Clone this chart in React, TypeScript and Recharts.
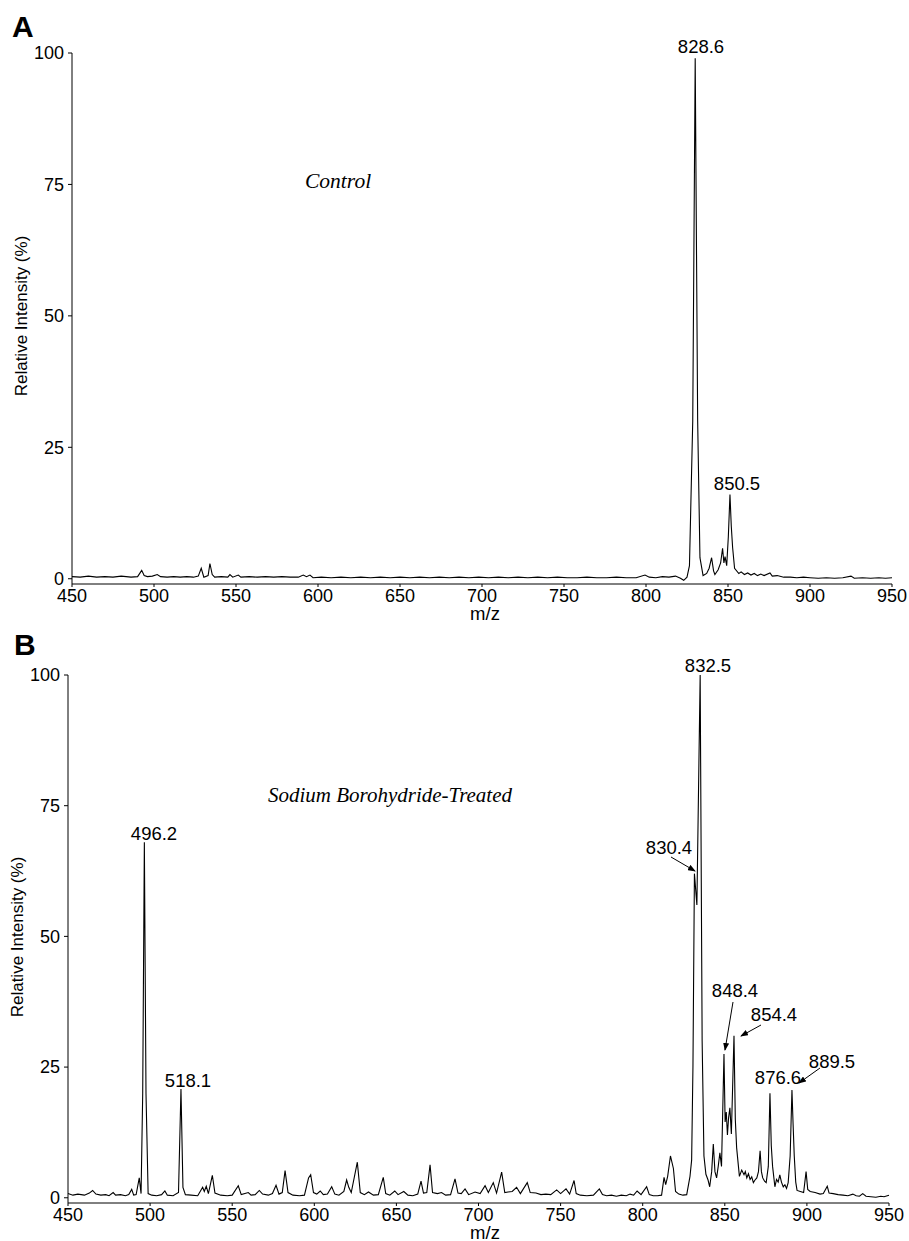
import React from 'react';
import { LineChart, Line, XAxis, YAxis } from 'recharts';

// axis ticks (shared by both panels)
const xTicks = [450, 500, 550, 600, 650, 700, 750, 800, 850, 900, 950];
const yTicks = [0, 25, 50, 75, 100];

// panel A - control spectrum (m/z, relative intensity %)
const mzA = [
  450, 455, 460, 465, 470, 475, 480, 486, 490, 492.5, 494, 496, 499, 502, 504, 508, 512, 516, 520, 524,
  527, 528.8, 530.4, 533, 534.1, 535.5, 537, 541, 545, 546.3, 548, 551.4, 553, 558, 563, 568, 573, 578,
  583, 588, 591, 593, 595.1, 597, 602, 608, 614, 620, 626, 632, 638, 644, 650, 656, 662, 668, 674, 680,
  686, 692, 698, 704, 710, 716, 722, 728, 734, 740, 746, 752, 758, 764, 770, 776, 782, 788, 794, 799.4,
  802, 806, 810, 814, 818, 821, 823, 825, 826.5, 828.5, 830, 831.5, 832.9, 834.8, 837, 838.5, 840,
  841.2, 842, 844, 845.5, 846.7, 847.5, 848.2, 849.2, 850.2, 851.2, 852, 852.8, 854, 856.6, 858, 860,
  862, 864, 866, 868, 870, 872, 875.6, 877, 880, 884, 888, 892, 896, 900, 905, 910, 915, 920, 925, 927,
  932, 937, 942, 946, 950,
];
const intA = [
  0.4, 0.3, 0.5, 0.3, 0.4, 0.3, 0.5, 0.3, 0.4, 1.6, 0.6, 0.4, 0.5, 0.8, 0.4, 0.3, 0.4, 0.3, 0.4, 0.3,
  0.5, 2.0, 0.3, 0.6, 2.9, 0.8, 0.3, 0.4, 0.3, 0.8, 0.3, 0.7, 0.3, 0.4, 0.3, 0.4, 0.3, 0.4,
  0.3, 0.3, 0.7, 0.4, 0.7, 0.2, 0.3, 0.2, 0.3, 0.2, 0.3, 0.2, 0.3, 0.2, 0.3, 0.2, 0.3, 0.2, 0.3, 0.2,
  0.3, 0.2, 0.3, 0.2, 0.3, 0.2, 0.3, 0.2, 0.3, 0.2, 0.3, 0.2, 0.2, 0.3, 0.2, 0.2, 0.3, 0.2, 0.2, 0.7,
  0.3, 0.2, 0.4, 0.3, 0.5, 0.1, -0.3, 0.3, 2.5, 30, 99, 30, 4, 0.6, 1.0, 2.0, 4.0,
  1.5, 0.8, 1.7, 3.0, 5.8, 3.0, 4.2, 2.5, 8, 16, 10, 6, 2.0, 1.0, 1.3, 0.8,
  1.1, 0.7, 1.0, 0.6, 0.9, 0.6, 1.1, 0.5, 0.6, 0.3, 0.3, 0.2, 0.3, 0.2, 0.1, 0.2, 0.1, 0.2, 0.5, 0.1,
  0.2, 0.1, 0.2, 0.1, 0.2,
];

// panel B - sodium borohydride-treated spectrum
const mzB = [
  450, 453, 456, 460, 463, 465, 467, 470, 473, 475, 477.5, 479, 482, 485, 487, 488.8, 490, 491.5, 493.4,
  494.5, 495.5, 496.5, 497.5, 498.8, 501, 504, 507, 509, 510.5, 514, 517.3, 518.8, 520, 521.5, 525, 529,
  532, 533, 534.2, 535.5, 537.9, 539.5, 543, 547, 550, 553.7, 555.5, 559.8, 561.5, 564, 566.5, 568.5,
  572, 574.5, 576.7, 578.5, 580.5, 582.2, 584, 587, 591, 594, 596.5, 597.8, 599.5, 601.5, 603.6, 605.5,
  608, 610.6, 612.5, 615, 618, 619.7, 621, 622.5, 626.2, 628, 630.5, 633, 636, 639, 642, 643.5, 646,
  649, 651, 654.5, 657, 660, 663, 665, 666.5, 668.5, 670.5, 672, 675, 677.5, 680, 683, 685.7, 687.5,
  689.5, 691.8, 694, 697.9, 701, 704, 706, 709, 711, 714.1, 716, 718, 720.5, 723.2, 725.5, 729.7, 731.5,
  735, 738, 741, 744, 747.6, 750, 753.3, 755.5, 758.2, 759.5, 762, 766, 770, 773.6, 775.5, 778, 781,
  784, 787, 790, 792.3, 794.5, 796.6, 799, 802.4, 804, 806.4, 809, 811.5, 813, 814, 815.2, 816.9, 818.7,
  820, 822, 824.5, 826.8, 828.8, 829.8, 830.6, 831.5, 833, 835, 836.2, 837.3, 838.5, 839.8, 840.8, 842,
  843, 844, 845, 846, 847, 848, 849.5, 850.2, 850.9, 851.6, 852.3, 853.1, 854, 855.6, 856.4, 857.2,
  858.9, 860.3, 861.7, 862.5, 863.4, 864.4, 865.4, 866.4, 867.4, 868.4, 869.5, 870.5, 871.5, 872.3,
  873.1, 874.2, 875.2, 876.5, 877.5, 878.3, 879.1, 880.5, 881.5, 882.5, 883.5, 884.5, 885.6, 886.6,
  887.6, 888.6, 889.8, 890.9, 891.6, 892.3, 893.2, 894, 896, 898, 899.5, 900.5, 902, 905, 908, 910,
  912.4, 913.5, 916, 919, 922, 925, 928, 930, 932, 934, 936, 939, 942, 945, 947, 950,
];
const intB = [
  0.8, 0.5, 0.7, 0.5, 0.9, 1.4, 0.7, 0.5, 0.6, 0.4, 1.0, 0.5, 0.6, 0.4, 0.6, 1.6, 0.5, 0.6, 3.8,
  0.8, 20, 68, 20, 0.8, 0.5, 0.4, 0.6, 1.3, 0.5, 0.4, 1.0, 20.8, 2.0, 0.6, 0.5, 0.4,
  2.0, 1.2, 2.2, 0.8, 4.3, 0.9, 0.5, 0.4, 0.5, 2.3, 0.6, 1.0, 0.5, 0.6, 1.4, 0.7,
  0.5, 0.8, 2.4, 0.7, 1.0, 5.2, 1.0, 0.5, 0.4, 0.5, 3.8, 4.4, 1.0, 0.7, 1.3, 0.6,
  0.7, 2.1, 0.7, 0.5, 1.2, 3.4, 2.0, 1.0, 6.8, 1.0, 0.6, 1.1, 0.5, 0.6, 3.9, 0.8, 0.5,
  1.3, 0.6, 1.2, 0.5, 0.4, 0.7, 3.2, 0.9, 1.0, 6.3, 1.0, 0.8, 1.0, 0.5, 0.6, 3.6, 0.9,
  0.8, 1.7, 0.6, 1.1, 0.8, 2.3, 1.0, 2.9, 0.9, 4.9, 1.0, 1.1, 1.2, 2.0, 0.8, 2.9, 1.0,
  0.9, 0.6, 0.7, 0.6, 1.5, 0.8, 1.7, 0.7, 3.3, 0.8, 0.5, 0.4, 0.5, 1.7, 0.6, 0.4, 0.5,
  0.3, 0.5, 0.4, 0.7, 0.5, 1.3, 0.6, 2.1, 0.6, 0.4, 0.4, 0.5, 3.9, 2.5, 4.1, 8.0, 5.6,
  1.2, 0.7, 0.5, 0.6, 4.1, 7.2, 25, 62, 56, 100, 30, 8, 4.5, 3.4, 2.1, 5,
  10.3, 5, 3.8, 6, 8.6, 6, 27.5, 14.5, 16.4, 12, 15.3, 17.2, 12.2, 31, 15, 9.6,
  4.1, 5.3, 4.4, 5.0, 3.8, 4.6, 3.5, 4.0, 2.9, 3.4, 3.8, 5, 9.0, 5,
  3.8, 3.2, 2.9, 6, 20, 10, 6, 2.1, 3.5, 3.0, 4.4, 3.0, 2.1, 2.5,
  1.8, 2.9, 8, 20.6, 14, 8, 3, 1.4, 1.2, 1.0, 5.0, 1.6, 1.2, 1.0, 0.7, 0.8,
  2.2, 0.9, 0.8, 0.6, 0.5, 0.4, 0.7, 0.4, 0.3, 0.8, 0.3, 0.2, 0.1, 0.3, 0.2, 0.5,
];

const sans = '"Liberation Sans", Arial, sans-serif';
const serif = '"Liberation Serif", "Times New Roman", serif';
const tickStyle = { fill: '#000', fontSize: 18, fontFamily: sans };

interface SpectrumProps {
  mz: number[];
  intensity: number[];
  height: number;
  top: number;
  yWidth: number;
  right: number;
  bottom: number;
}

function Spectrum({ mz, intensity, height, top, yWidth, right, bottom }: SpectrumProps) {
  const data = mz.map((m, i) => ({ mz: m, v: intensity[i] }));
  return (
    <LineChart
      width={909}
      height={height}
      data={data}
      margin={{ top, right, left: 0, bottom }}
    >
      <XAxis
        dataKey="mz"
        type="number"
        domain={[450, 950]}
        ticks={xTicks}
        interval={0}
        stroke="#000"
        tickSize={3}
        tickMargin={2}
        height={30}
        tick={tickStyle}
      />
      <YAxis
        type="number"
        domain={[-1, 100]}
        ticks={yTicks}
        interval={0}
        width={yWidth}
        stroke="#000"
        tickSize={4}
        tickMargin={4}
        tick={tickStyle}
      />
      <Line
        type="linear"
        dataKey="v"
        stroke="#000"
        strokeWidth={1.1}
        dot={false}
        isAnimationActive={false}
      />
    </LineChart>
  );
}

export default function App() {
  const label = { fontFamily: sans, fontSize: 18.5, fill: '#000' };
  return (
    <div
      style={{
        position: 'absolute',
        left: 0,
        top: 0,
        width: 909,
        height: 1241,
        background: '#fff',
        overflow: 'hidden',
      }}
    >
      <div style={{ position: 'absolute', left: 0, top: 0 }}>
        <Spectrum mz={mzA} intensity={intA} height={630} top={53} yWidth={72} right={17} bottom={16} />
      </div>
      <div style={{ position: 'absolute', left: 0, top: 620 }}>
        <Spectrum mz={mzB} intensity={intB} height={621} top={55} yWidth={68} right={20} bottom={8} />
      </div>

      {/* panel letters, titles and peak annotations */}
      <svg
        width={909}
        height={1241}
        style={{ position: 'absolute', left: 0, top: 0, pointerEvents: 'none' }}
      >
        <defs>
          <marker id="arr" markerWidth="8" markerHeight="6" refX="7" refY="3" orient="auto">
            <path d="M0,0 L8,3 L0,6 Z" fill="#000" />
          </marker>
        </defs>

        <text x={12} y={37} fontFamily={sans} fontWeight="bold" fontSize={30}>A</text>
        <text x={14} y={655} fontFamily={sans} fontWeight="bold" fontSize={30}>B</text>

        <text transform="translate(27,316) rotate(-90)" textAnchor="middle" fontFamily={sans} fontSize={17}>
          Relative Intensity (%)
        </text>
        <text transform="translate(23,937) rotate(-90)" textAnchor="middle" fontFamily={sans} fontSize={17}>
          Relative Intensity (%)
        </text>

        <text x={485} y={620} textAnchor="middle" {...label}>m/z</text>
        <text x={485} y={1239} textAnchor="middle" {...label}>m/z</text>

        <text x={305} y={188} fontFamily={serif} fontStyle="italic" fontSize={21.5}>Control</text>
        <text x={268} y={802} fontFamily={serif} fontStyle="italic" fontSize={21}>
          Sodium Borohydride-Treated
        </text>

        {/* panel A peaks */}
        <text x={701} y={53} textAnchor="middle" {...label}>828.6</text>
        <text x={737} y={490} textAnchor="middle" {...label}>850.5</text>

        {/* panel B peaks */}
        <text x={154} y={840} textAnchor="middle" {...label}>496.2</text>
        <text x={188} y={1087} textAnchor="middle" {...label}>518.1</text>
        <text x={708} y={672} textAnchor="middle" {...label}>832.5</text>
        <text x={669} y={854} textAnchor="middle" {...label}>830.4</text>
        <text x={735} y={997} textAnchor="middle" {...label}>848.4</text>
        <text x={774} y={1021} textAnchor="middle" {...label}>854.4</text>
        <text x={778} y={1084} textAnchor="middle" {...label}>876.6</text>
        <text x={832} y={1068} textAnchor="middle" {...label}>889.5</text>

        <g stroke="#000" strokeWidth={1}>
          <line x1={671} y1={857} x2={695} y2={871} markerEnd="url(#arr)" />
          <line x1={733} y1={1002} x2={725} y2={1050} markerEnd="url(#arr)" />
          <line x1={761} y1={1025} x2={741} y2={1036} markerEnd="url(#arr)" />
          <line x1={820} y1={1068} x2={799} y2={1083} markerEnd="url(#arr)" />
        </g>
      </svg>
    </div>
  );
}
